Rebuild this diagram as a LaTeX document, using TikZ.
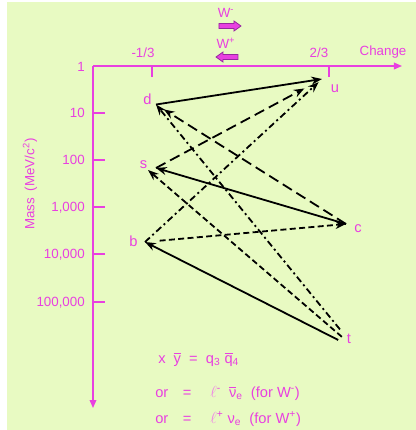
\documentclass[tikz,border=0pt]{standalone}
\usepackage{fontspec}
\setmainfont{Liberation Sans}
\usetikzlibrary{arrows.meta,calc}

\definecolor{bgGreen}{RGB}{232,250,194}
\definecolor{axisPink}{RGB}{232,64,224}
\definecolor{lightPink}{RGB}{240,130,232}
\definecolor{wOutline}{RGB}{150,40,160}

\begin{document}
\begin{tikzpicture}[x=0.75pt, y=-0.75pt,
    lab/.style={text=axisPink, font=\fontsize{10}{12}\selectfont, inner sep=0pt},
    quark/.style={text=axisPink, font=\fontsize{11}{12}\selectfont, inner sep=0pt},
    final/.style={text=axisPink, font=\fontsize{11}{13}\selectfont, inner sep=0pt, anchor=base west},
    flow/.style={black, line width=1.35pt, -{Stealth[length=8pt,width=6pt]}},
    longdash/.style={dash pattern=on 8pt off 4pt},
    shortdash/.style={dash pattern=on 4.5pt off 2.5pt},
    dashdot/.style={dash pattern=on 5pt off 2.5pt on 1.5pt off 2.5pt},
    wbox/.style={fill=axisPink, draw=wOutline, line width=0.6pt}]
  \useasboundingbox (0,0) rectangle (416,430);
  \fill[white] (0,0) rectangle (416,430);
  \fill[bgGreen] (7,2) rectangle (416,430);

  % Axes
  \draw[axisPink, line width=1pt, -{Triangle[length=6pt,width=5pt]}] (93,66) -- (402,66);
  \draw[axisPink, line width=1pt, -{Triangle[length=6pt,width=5pt]}] (93,66) -- (93,408);
  \node[lab, anchor=base] (chg) at (383,55) {Change};

  % Charge ticks
  \foreach \x/\q/\lx in {152/{-1/3}/143, 329/{2/3}/319} {
    \draw[axisPink, line width=0.8pt] (\x,66) -- (\x,77);
    \node[lab, anchor=base] at (\lx,57) {\q};
  }

  % Mass ticks
  \node[lab, anchor=base east] (m1) at (85,71) {1};
  \foreach \y/\m in {113/10, 160/100, 207/{1{,}000}, 254/{10{,}000}, 302/{100{,}000}} {
    \draw[axisPink, line width=0.8pt] (93,\y) -- (105,\y);
    \node[lab, anchor=base east] at (85,\y+4.5) {\m};
  }
  \node[lab, rotate=90] (mass) at (30,184) {Mass\enspace(MeV/c\textsuperscript{2})};

  % W arrows
  \node[lab] (wm) at (226,13) {W\textsuperscript{-}};
  \filldraw[wbox] (219,23.5) -- ++(15,0) -- ++(0,-2.5) -- ++(7,5) -- ++(-7,5) -- ++(0,-2.5) -- ++(-15,0) -- cycle;
  \node[lab] (wp) at (226,43) {W\textsuperscript{+}};
  \filldraw[wbox] (238,54.5) -- ++(-15,0) -- ++(0,-2.5) -- ++(-7,5) -- ++(7,5) -- ++(0,-2.5) -- ++(15,0) -- cycle;

  % Quarks
  \node[quark] (d) at (147.5,99) {d};
  \node[quark] (u) at (335,89) {u};
  \node[quark] (s) at (143.5,164.5) {s};
  \node[quark] (c) at (358,228.5) {c};
  \node[quark] (b) at (133.5,241.5) {b};
  \node[quark] (t) at (349,339) {t};

  \coordinate (dv) at (156,104.5);
  \coordinate (uv) at (322,79);
  \coordinate (sv) at (156,168);
  \coordinate (sx) at (148,170);
  \coordinate (cv) at (346,224);
  \coordinate (bv) at (145,242);
  \coordinate (tv) at (356,349);

  % Decays
  \draw[flow] (dv) -- (uv);
  \draw[flow, longdash, shorten >=7pt] (cv) -- (dv);
  \draw[flow, longdash, shorten >=15pt] (sv) -- (uv);
  \draw[flow, dashdot, shorten >=3.5pt] (bv) -- (uv);
  \draw[flow, dashdot, shorten <=19pt] (tv) -- (dv);
  \draw[flow] (cv) -- (sv);
  \draw[flow, shortdash, shorten <=14pt] (tv) -- (sx);
  \draw[flow, shortdash, shorten <=11pt] (bv) -- (cv);
  \draw[flow, shorten <=15pt] (tv) -- (bv);

  % Final states
  \node[final] (f1) at (158,363)
    {x\ \ $\overline{\mbox{y}}$\ \ =\ \ q\textsubscript{3}\ $\overline{\mbox{q}}$\textsubscript{4}};
  \node[final] (f2) at (155,397)
    {or\quad=\quad\ {\color{lightPink}\large$\ell$}\textsuperscript{-}\ \ $\overline{\mbox{ν}}$\textsubscript{e}\ \ (for W\textsuperscript{-})};
  \node[final] (f3) at (155,423)
    {or\quad=\quad\ {\color{lightPink}\large$\ell$}\textsuperscript{+}\ ν\textsubscript{e}\ \ (for W\textsuperscript{+})};
\end{tikzpicture}
\end{document}
